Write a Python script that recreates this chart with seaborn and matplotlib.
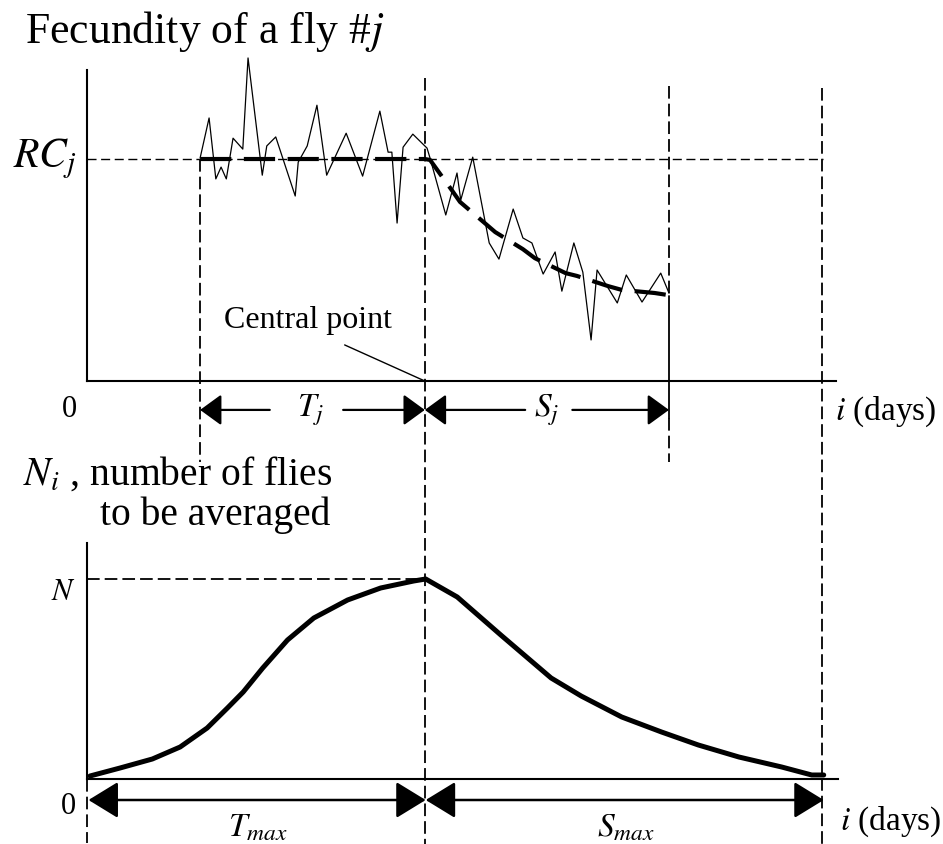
import numpy as np
import pandas as pd
import matplotlib
matplotlib.use("Agg")
import matplotlib.pyplot as plt
import seaborn as sns

# ---------------- data ----------------
fly_days = [15.1, 16.3, 17.2, 17.9, 18.6, 19.5, 20.8, 21.5, 23.4, 24.0, 25.2, 27.8,
            28.2, 29.4, 30.7, 32.0, 34.6, 36.8, 39.1, 40.2, 40.7, 41.4, 42.2, 43.5,
            45.4, 45.8, 47.9, 49.4, 49.9, 51.5, 53.7, 55.0, 56.9, 58.2, 59.4, 60.9,
            62.5, 63.4, 65.0, 66.2, 67.3, 68.1, 70.8, 72.0, 74.1, 76.6, 77.7]
fly_fecundity = [71.7, 84.6, 65.0, 68.8, 65.0, 78.1, 74.6, 103.9, 66.2, 75.6, 78.5, 59.5,
                 70.4, 75.6, 88.7, 66.2, 79.7, 65.9, 86.8, 73.6, 73.6, 50.8, 75.2, 79.4,
                 74.9, 71.7, 53.4, 66.9, 58.2, 72.0, 44.4, 39.2, 55.3, 46.0, 44.4, 34.4,
                 41.5, 28.9, 44.4, 35.0, 13.2, 35.7, 25.1, 34.1, 25.4, 34.7, 28.3]

trend_days = [15.1, 45.1, 45.8, 48.7, 49.8, 53.1, 54.5, 58.2, 59.8, 63.9, 65.4, 69.6, 71.4, 75.8, 78.5]
trend_values = [71.4, 71.4, 71.1, 61.4, 57.6, 50.8, 47.9, 42.4, 39.5, 34.7, 33.8, 30.5, 29.3, 28.3, 27.3]

rc_level = 71.4
t_start = 15.1
central_day = 45.1
s_end = 77.7
max_day = 98.1

n_days = [0.4, 4.4, 8.7, 12.4, 16.0, 18.7, 20.8, 23.4, 26.7, 30.2, 34.7, 39.1, 43.5, 45.1,
          49.3, 55.1, 61.8, 65.8, 71.2, 76.5, 81.4, 86.8, 92.5, 96.5, 98.1]
n_values = [1.5, 5.5, 10.0, 16.0, 25.5, 35.5, 43.5, 55.5, 69.5, 80.5, 89.5, 95.5, 99.0, 100.0,
            91.0, 72.0, 50.5, 41.5, 31.0, 23.5, 17.0, 11.0, 6.0, 2.0, 2.0]
n_level = 100

# ---------------- style ----------------
sns.set_theme(style="white")
plt.rcParams["font.family"] = ["Liberation Serif", "DejaVu Serif"]
plt.rcParams["mathtext.fontset"] = "stix"

W, H = 943, 844
fig = plt.figure(figsize=(W / 100, H / 100), dpi=100)


def px_axes(left, right, top, bottom):
    return fig.add_axes([left / W, 1 - bottom / H, (right - left) / W, (bottom - top) / H])


thin_dash = (0, (6.5, 3.3))
vert_dash = (0, (7.0, 2.8))

# ================= TOP PANEL =================
ax1 = px_axes(87, 836, 39, 381)
ax1.set_xlim(0, 100)
ax1.set_ylim(0, 110)
ax1.patch.set_visible(False)
for s in ("top", "right"):
    ax1.spines[s].set_visible(False)
ax1.spines["left"].set_bounds(0, 100)
for s in ("left", "bottom"):
    ax1.spines[s].set_color("black")
    ax1.spines[s].set_linewidth(1.5)
ax1.set_xticks([])
ax1.set_yticks([])

fly_df = pd.DataFrame({"day": fly_days, "fec": fly_fecundity})
trend_df = pd.DataFrame({"day": trend_days, "fec": trend_values})

# RC_j horizontal dashed level
ax1.plot([0, 98.3], [rc_level, rc_level], color="black", lw=1.0, ls=thin_dash, clip_on=False, zorder=1)

sns.lineplot(data=fly_df, x="day", y="fec", ax=ax1, color="black", lw=0.9,
             sort=False, estimator=None, zorder=3)
sns.lineplot(data=trend_df, x="day", y="fec", ax=ax1, color="black", lw=3.0,
             sort=False, estimator=None, zorder=4)
ax1.lines[-1].set_linestyle((0, (7.5, 3.0)))
for ln in ax1.lines:
    ln.set_clip_on(False)
ax1.set_xlabel("")
ax1.set_ylabel("")

# vertical guide lines
ax1.plot([t_start, t_start], [rc_level, -26], color="black", lw=1.3, ls=vert_dash, clip_on=False)
ax1.plot([central_day, central_day], [97.4, -149], color="black", lw=1.3, ls=vert_dash, clip_on=False)
ax1.plot([s_end, s_end], [94.9, trend_values[-1]], color="black", lw=1.3, ls=vert_dash, clip_on=False)
ax1.plot([s_end, s_end], [trend_values[-1], -12], color="black", lw=1.3, clip_on=False)
ax1.plot([s_end, s_end], [-12, -26], color="black", lw=1.3, ls=vert_dash, clip_on=False)
ax1.plot([max_day, max_day], [94.2, -149], color="black", lw=1.3, ls=vert_dash, clip_on=False)

# texts
ax1.text(-8.3, 108.7, r"Fecundity of a fly #$j$", fontsize=31.5, ha="left", va="baseline", color="black")
ax1.text(-1.4, rc_level, r"$RC_j$", fontsize=30, ha="right", va="center", color="black")
ax1.text(-2.3, -9.3, "0", fontsize=22, ha="center", va="center", color="black")
ax1.text(29.8, -9.3, r"$T_j$", fontsize=24, ha="center", va="center", color="black")
ax1.text(61.3, -9.3, r"$S_j$", fontsize=24, ha="center", va="center", color="black")
ax1.text(99.9, -10.0, r"$i$ (days)", fontsize=24, ha="left", va="center", color="black")
ax1.text(29.5, 19.5, "Central point", fontsize=23, ha="center", va="center", color="black")
ax1.plot([34.4, central_day], [11.6, 0], color="black", lw=1.0, clip_on=False)

arrow_small = dict(arrowstyle="-|>,head_length=1.1,head_width=0.8", color="black", lw=1.6,
                   shrinkA=0, shrinkB=0)
y_arr = -9.3
for tip, tail in [(t_start, 24.4), (central_day, 34.2), (central_day, 58.5), (s_end, 64.8)]:
    ax1.annotate("", xy=(tip, y_arr), xytext=(tail, y_arr), arrowprops=arrow_small,
                 annotation_clip=False)

# ================= BOTTOM PANEL =================
ax2 = px_axes(87, 838, 543, 779)
ax2.set_xlim(0, 100)
ax2.set_ylim(0, 118)
ax2.patch.set_visible(False)
for s in ("top", "right"):
    ax2.spines[s].set_visible(False)
for s in ("left", "bottom"):
    ax2.spines[s].set_color("black")
    ax2.spines[s].set_linewidth(1.5)
ax2.set_xticks([])
ax2.set_yticks([])

n_df = pd.DataFrame({"day": n_days, "n": n_values})
ax2.plot([0, central_day], [n_level, n_level], color="black", lw=1.3, ls=vert_dash, zorder=1)
sns.lineplot(data=n_df, x="day", y="n", ax=ax2, color="black", lw=3.6,
             sort=False, estimator=None, zorder=3)
ax2.set_xlabel("")
ax2.set_ylabel("")

ax2.text(-8.5, 147, r"$N_i$ , number of flies", fontsize=28.5, ha="left", va="baseline", color="black")
ax2.text(1.7, 127, "to be averaged", fontsize=28.5, ha="left", va="baseline", color="black")
ax2.text(-3.1, 93, r"$N$", fontsize=22, ha="center", va="center", color="black")
ax2.text(-2.5, -14, "0", fontsize=22, ha="center", va="center", color="black")
ax2.text(22.8, -24.5, r"$T_{max}$", fontsize=24, ha="center", va="center", color="black")
ax2.text(71.8, -24.5, r"$S_{max}$", fontsize=24, ha="center", va="center", color="black")
ax2.text(100.3, -21.5, r"$i$ (days)", fontsize=24, ha="left", va="center", color="black")

arrow_big = dict(arrowstyle="<|-|>,head_length=1.55,head_width=0.95", color="black", lw=1.8,
                 shrinkA=0, shrinkB=0)
y_arr2 = -10.5
ax2.annotate("", xy=(0.2, y_arr2), xytext=(central_day, y_arr2), arrowprops=arrow_big,
             annotation_clip=False)
ax2.annotate("", xy=(central_day, y_arr2), xytext=(max_day, y_arr2), arrowprops=arrow_big,
             annotation_clip=False)
ax2.plot([0, 0], [0, -32], color="black", lw=1.3, ls=vert_dash, clip_on=False)

fig.savefig("out.png", dpi=100, facecolor="white")
